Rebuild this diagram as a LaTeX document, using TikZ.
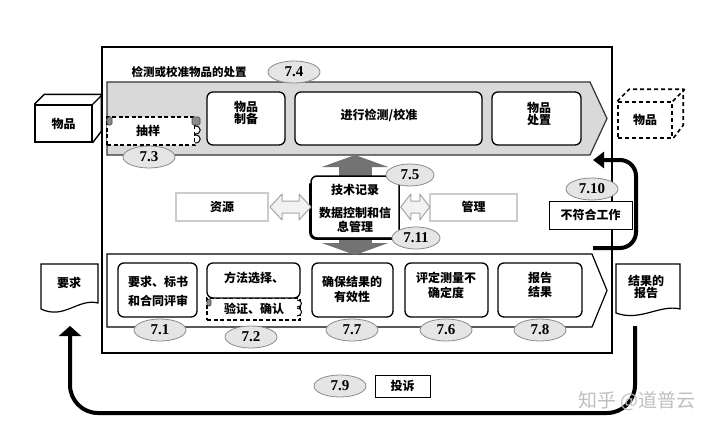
\documentclass[tikz,border=0pt]{standalone}
\usepackage{fontspec}
\setmainfont{Liberation Serif}
\newfontfamily\cjk{Noto Sans CJK SC}
\usetikzlibrary{arrows.meta,shapes.geometric}
\begin{document}
\begin{tikzpicture}[x=1pt,y=-1pt,
  box/.style={draw=black,line width=1.3pt,rounded corners=6pt,fill=white,inner sep=0pt},
  dbox/.style={draw=black,line width=1.2pt,dash pattern=on 4pt off 2.5pt,fill=white,inner sep=0pt},
  lbl/.style={font=\cjk\bfseries\fontsize{12}{#1}\selectfont,align=center,inner sep=0pt},
  lbl/.default=15,
  num/.style={ellipse,draw=black!45,fill=black!10,line width=0.8pt,minimum width=52pt,minimum height=22pt,inner sep=0pt,font=\bfseries\fontsize{15}{15}\selectfont},
  softbox/.style={draw=black!20,line width=2pt,fill=white,inner sep=0pt},
  hollow/.style={draw=black!35,fill=black!5,line width=1pt,line join=round},
  bigarrow/.style={draw=black!55,line width=33pt,-{Triangle[width=66pt,length=12pt]}},
  flow/.style={draw=black,line width=4pt},
  tab/.style={fill=black!45,draw=black!75,line width=0.7pt,rounded corners=1.5pt},
  bump/.style={draw=black,line width=1pt,fill=white},
]
\useasboundingbox (0,0) rectangle (720,428);
\fill[white] (0,0) rectangle (720,428);

% outer frame
\node[draw=black,line width=2.5pt,minimum width=510pt,minimum height=306pt,inner sep=0pt] (frame) at (357,200) {};

% upper band
\filldraw[fill=black!15,draw=black!80,line width=1.2pt] (107,82) -- (590,82) -- (607,118.5) -- (590,155) -- (107,155) -- cycle;
\coordinate (upTip) at (355,155);
% lower band
\filldraw[fill=white,draw=black,line width=1.2pt] (107,254) -- (592,254) -- (607,290.5) -- (592,327) -- (107,327) -- cycle;
\coordinate (lowTop) at (355,255);

% title
\node[lbl,font=\cjk\bfseries\fontsize{11.5}{12}\selectfont] (title) at (189,72) {检测或校准物品的处置};
\node[num] (n74) at (294,72) {7.4};

% upper boxes
\node[box,minimum width=78pt,minimum height=53pt] (prep) at (246,118.5) {};
\node[lbl=12.5] (prepT) at (246,113) {物品\\制备};
\node[box,minimum width=187pt,minimum height=53pt] (test) at (388.5,118.5) {};
\node[lbl] (testT) at (379,115) {进行检测/校准};
\node[box,minimum width=89pt,minimum height=53pt] (disp) at (536.5,118.5) {};
\node[lbl=12.5] (dispT) at (539,114) {物品\\处置};

% sampling
\node[dbox,minimum width=88pt,minimum height=28pt] (samp) at (151,131) {};
\node[lbl] (sampT) at (148,131) {抽样};
\draw[tab] (107,117) rectangle (112,125);
\draw[tab] (192,117) rectangle (200,125);
\draw[bump] (195,126) .. controls (202,126) and (202,134) .. (195,134);
\draw[bump] (195,135) .. controls (202,135) and (202,143) .. (195,143);
\node[num] (n73) at (149,157) {7.3};

% item cubes
\node[draw=black,line width=1.4pt,fill=white,minimum width=57pt,minimum height=37pt,lbl] (itemL) at (63.5,123.5) {物品};
\draw[line width=1.4pt,line join=round] (itemL.north west) -- ++(10,-10) -- ++(57,0) -- ++(0,37) -- (itemL.south east);
\draw[line width=1.4pt] (itemL.north east) -- ++(10,-10);

\node[draw=black,line width=1.6pt,dash pattern=on 4pt off 3pt,minimum width=54pt,minimum height=36pt,lbl] (itemR) at (645,120) {物品};
\draw[line width=1.6pt,dash pattern=on 4pt off 3pt] (itemR.north west) -- ++(12,-12) -- ++(54,0) -- ++(0,36) -- (itemR.south east);
\draw[line width=1.6pt,dash pattern=on 4pt off 3pt] (itemR.north east) -- ++(12,-12);

% middle row
\node[softbox,lbl,minimum width=92pt,minimum height=28pt] (res) at (222,207) {资源};
\node[softbox,lbl,minimum width=87pt,minimum height=27pt] (mgmt) at (473.5,207) {管理};
\draw[bigarrow] (355,176) -- (upTip);
\draw[bigarrow] (355,238) -- (lowTop);
\node[box,line width=1.5pt,minimum width=88pt,minimum height=62pt] (tech) at (355,207) {};
\draw[line width=2.2pt,rounded corners=6pt] ([yshift=-8pt]tech.north west) -- (tech.south west) -- ([xshift=-8pt]tech.south east);
\node[lbl] (techA) at (355,190) {技术记录};
\node[lbl=14] (techB) at (355,220) {数据控制和信\\息管理};
\draw[hollow] (res.east) ++(1,0) -- ++(12,-13) -- ++(0,7) -- ++(17,0) -- ++(0,-7) -- ++(12,13) -- ++(-12,13) -- ++(0,-7) -- ++(-17,0) -- ++(0,7) -- cycle;
\draw[hollow] (tech.east) ++(1,0) -- ++(10,-13) -- ++(0,7) -- ++(9,0) -- ++(0,-7) -- ++(10,13) -- ++(-10,13) -- ++(0,-7) -- ++(-9,0) -- ++(0,7) -- cycle;
\node[num,minimum width=48pt] (n75) at (410,175) {7.5};
\node[num,minimum width=48pt] (n711) at (416,238) {7.11};

% nonconforming work
\coordinate (ncA) at (593,248);
\coordinate (ncB) at (593,160);
\draw[flow,rounded corners=16pt,-{Triangle[width=16pt,length=11pt]}] (ncA) -- ++(43,0) |- (ncB);
\node[draw=black,line width=0.8pt,fill=white,minimum width=83pt,minimum height=28pt,lbl] (ncw) at (590.5,215) {不符合工作};
\node[num] (n710) at (592,189) {7.10};

% lower boxes
\node[box,minimum width=79pt,minimum height=54pt] (req) at (157.5,290) {};
\node[lbl=19] (reqT) at (158,291.5) {要求、标书\\和合同评审};
\node[dbox,minimum width=93pt,minimum height=22pt] (verif) at (253.5,309) {};
\node[box,minimum width=93pt,minimum height=35pt] (meth) at (253.5,280.5) {};
\node[lbl] (methT) at (254,278) {方法选择、};
\node[lbl] (verifT) at (254,309) {验证、确认};
\draw[tab] (207,299) rectangle (211,306);
\draw[bump] (297,300) .. controls (303,300) and (303,307) .. (297,307);
\draw[bump] (297,308) .. controls (303,308) and (303,316) .. (297,316);
\node[box,minimum width=81pt,minimum height=54pt] (valid) at (352.5,290) {};
\node[lbl] (validT) at (352,289.5) {确保结果的\\有效性};
\node[box,minimum width=83pt,minimum height=54pt] (unc) at (446.5,290) {};
\node[lbl] (uncT) at (446,285.5) {评定测量不\\确定度};
\node[box,minimum width=84pt,minimum height=54pt] (rep) at (540,290) {};
\node[lbl=14] (repT) at (540,285) {报告\\结果};

\node[num] (n71) at (160,330) {7.1};
\node[num] (n72) at (251,337) {7.2};
\node[num] (n77) at (352,330) {7.7};
\node[num] (n76) at (446,330) {7.6};
\node[num] (n78) at (540,330) {7.8};

% documents
\draw[line width=1.2pt,fill=white] (41,264) -- (98,264) -- (98,303) .. controls (78,298) and (64,320) .. (41,309) -- cycle;
\node[lbl] (reqDoc) at (69,283) {要求};
\coordinate (reqIn) at (70,326);
\draw[line width=1.2pt,fill=white] (616,264) -- (680,264) -- (680,309) .. controls (660,304) and (640,322) .. (616,313) -- cycle;
\node[lbl=12] (repDoc) at (646,287) {结果的\\报告};
\coordinate (repOut) at (635,326);

% complaint loop
\draw[flow,rounded corners=28pt,-{Triangle[width=22pt,length=10pt]}] (repOut) -- ++(0,87) -| (reqIn);
\node[num] (n79) at (340,386) {7.9};
\node[draw=black,line width=0.8pt,fill=white,minimum width=55pt,minimum height=22pt,lbl] (comp) at (402.5,386) {投诉};

% watermark
\node[font=\cjk\fontsize{19}{19}\selectfont,text=black!25,inner sep=0pt] (wm) at (637,401) {知乎 @道普云};
\end{tikzpicture}
\end{document}
